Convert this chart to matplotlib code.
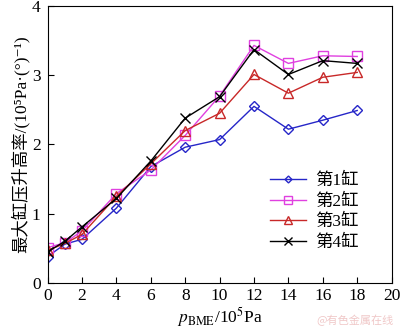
import matplotlib.pyplot as plt

plt.rcParams['font.family'] = ['Liberation Serif', 'Noto Sans CJK SC', 'DejaVu Serif']
plt.rcParams['mathtext.fontset'] = 'stix'

# pressure p_BME (10^5 Pa)
p_bme = [0, 1, 2, 4, 6, 8, 10, 12, 14, 16, 18]

# max pressure rise rate per cylinder
cyl1 = [0.38, 0.56, 0.63, 1.08, 1.68, 1.96, 2.07, 2.55, 2.22, 2.35, 2.49]
cyl2 = [0.51, 0.58, 0.75, 1.29, 1.63, 2.13, 2.70, 3.43, 3.17, 3.28, 3.27]
cyl3 = [0.47, 0.57, 0.70, 1.25, 1.72, 2.20, 2.45, 3.01, 2.74, 2.97, 3.04]
cyl4 = [0.45, 0.60, 0.81, 1.22, 1.76, 2.38, 2.69, 3.37, 3.01, 3.21, 3.17]

labels = ["第1缸", "第2缸", "第3缸", "第4缸"]

fig = plt.figure(figsize=(4, 3.29), dpi=100)
ax = fig.add_axes([0.119, 0.140, 0.860, 0.842])

ax.plot(p_bme, cyl1, color="#2626c8", marker="D", ms=5, mfc="none", lw=1, label=labels[0])
ax.plot(p_bme, cyl2, color="#e040e0", marker="s", ms=7.5, mfc="none", lw=1, label=labels[1])
ax.plot(p_bme, cyl3, color="#c82828", marker="^", ms=7.5, mfc="none", lw=1, label=labels[2])
ax.plot(p_bme, cyl4, color="black", marker="x", ms=7.5, lw=1, label=labels[3])

ax.set_xlim(0, 20)
ax.set_ylim(0, 4)
ax.set_xticks(range(0, 21, 2))
ax.set_yticks([0, 1, 2, 3, 4])
ax.tick_params(direction="in", length=4, labelsize=12.5, top=False, right=False)
ax.tick_params(axis="x", pad=4)
ax.tick_params(axis="y", pad=5)

ax.set_xlabel(r"$p_{\rm BME}$/10$^{5}$Pa", fontsize=12.5)
ax.xaxis.set_label_coords(0.5, -0.08)
ax.set_ylabel("最大缸压升高率/(10⁵Pa·(°)⁻¹)", fontsize=12.5, labelpad=2)

ax.legend(loc="lower left", bbox_to_anchor=(0.6, 0.06), frameon=False,
          fontsize=12.5, handlelength=2.1, labelspacing=0.25, handletextpad=0.5,
          markerscale=0.7)

fig.text(0.985, 0.01, "@有色金属在线", fontsize=8, color="#f0c8c8",
         ha="right", va="bottom", family=["Noto Sans CJK SC"])

fig.savefig("out.png", dpi=100)
